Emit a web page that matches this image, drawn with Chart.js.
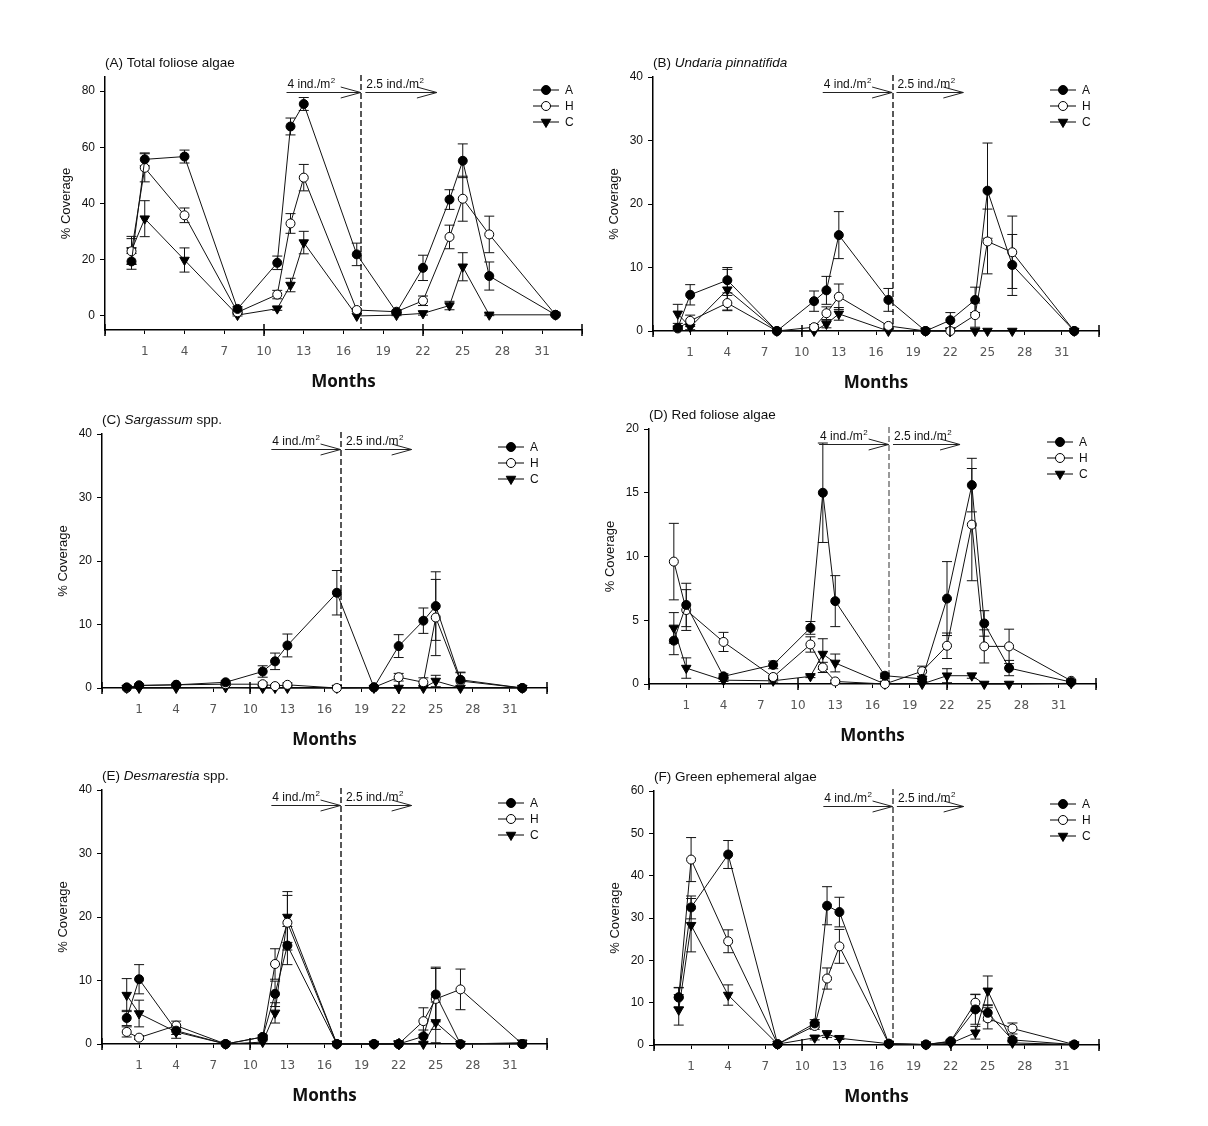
<!DOCTYPE html>
<html><head><meta charset="utf-8">
<script src="https://cdn.jsdelivr.net/npm/chart.js@4.4.0/dist/chart.umd.min.js"></script>
<style>
html,body{margin:0;padding:0;background:#fff;}
body{width:1208px;height:1126px;position:relative;overflow:hidden;}
canvas{position:absolute;left:0;top:0;}
</style></head><body>
<script>
// ---------- shared axis data ----------
const months = [0, 1, 4, 8, 11, 12, 13, 17, 20, 22, 24, 25, 27, 32];
const xTicks = [-2, 1, 4, 7, 10, 13, 16, 19, 22, 25, 28, 31, 34];
const xLabelled = [1, 4, 7, 10, 13, 16, 19, 22, 25, 28, 31];
const xMajorTicks = [-2, 10, 22, 34];
const seriesNames = ['A', 'H', 'C'];
const densityBreak = 17.35;
const arrowFirst = [11.7, 17.3];
const arrowSecond = [17.65, 23.05];
const arrowLabels = ['4 ind./m', '2.5 ind./m'];

// ---------- (A) Total foliose algae ----------
const totalA    = [19.4, 55.7, 56.7, 2.5, 18.9, 67.4, 75.4, 21.9, 1.3, 17.1, 41.4, 55.2, 14.2, 0.4];
const totalAErr = [2.8, 2.3, 2.3, 0.8, 2.4, 3.0, 2.3, 4.0, 0.5, 4.5, 3.5, 6.0, 5.0, 0.3];
const totalH    = [23.0, 52.7, 35.8, 1.3, 7.6, 32.9, 49.2, 2.1, 1.5, 5.4, 28.1, 41.7, 29.0, 0.4];
const totalHErr = [4.5, 5.0, 2.6, 0.5, 1.5, 3.5, 4.7, 0.5, 0.5, 1.7, 4.2, 8.0, 6.5, 0.3];
const totalC    = [23.3, 34.6, 19.9, 0.3, 2.6, 11.0, 26.1, 0.0, 0.3, 0.9, 3.7, 17.5, 0.4, 0.4];
const totalCErr = [5.0, 6.4, 4.3, 0.3, 0.6, 2.4, 4.0, 0.0, 0.2, 0.6, 1.5, 5.0, 0.3, 0.3];

// ---------- (B) Undaria pinnatifida ----------
const undariaA    = [0.5, 5.7, 8.0, 0.0, 4.7, 6.4, 15.1, 4.9, 0.0, 1.7, 4.9, 22.1, 10.4, 0.0];
const undariaAErr = [0.3, 1.6, 2.0, 0, 1.6, 2.2, 3.7, 1.8, 0, 1.2, 2.0, 7.5, 4.8, 0];
const undariaH    = [0.4, 1.6, 4.4, 0.0, 0.6, 2.8, 5.4, 0.8, 0.0, 0.0, 2.5, 14.1, 12.4, 0.0];
const undariaHErr = [0.3, 0.9, 1.2, 0, 0.4, 1.0, 2.0, 0.3, 0, 0, 1.9, 5.1, 5.7, 0];
const undariaC    = [2.7, 0.6, 6.5, 0.0, 0.0, 1.1, 2.7, 0.0, 0.0, 0.0, 0.0, 0.0, 0.0, 0.0];
const undariaCErr = [1.5, 0.4, 3.2, 0, 0, 0.6, 1.0, 0, 0, 0, 0, 0, 0, 0];

// ---------- (C) Sargassum spp. ----------
const sargA    = [0.1, 0.4, 0.5, 0.9, 2.6, 4.2, 6.7, 15.0, 0.1, 6.6, 10.6, 12.9, 1.3, 0.0];
const sargAErr = [0, 0.2, 0.1, 0.2, 0.9, 1.3, 1.8, 3.5, 0.1, 1.8, 2.0, 5.4, 1.2, 0];
const sargH    = [0.0, 0.4, 0.5, 0.6, 0.6, 0.3, 0.5, 0.0, 0.1, 1.7, 0.9, 11.1, 1.1, 0.0];
const sargHErr = [0, 0.2, 0.1, 0.2, 0.3, 0.2, 0.3, 0, 0.1, 0.6, 0.7, 6.0, 1.3, 0];
const sargC    = [0.0, 0.0, 0.0, 0.1, 0.0, 0.0, 0.0, 0.0, 0.0, 0.0, 0.0, 1.1, 0.0, 0.0];
const sargCErr = [0, 0, 0, 0, 0, 0, 0, 0, 0, 0, 0, 0.9, 0, 0];

// ---------- (D) Red foliose algae ----------
const redA    = [3.4, 6.2, 0.6, 1.5, 4.4, 15.0, 6.5, 0.65, 0.4, 6.7, 15.6, 4.75, 1.25, 0.15];
const redAErr = [1.1, 1.7, 0.2, 0.3, 0.5, 3.9, 2.0, 0.2, 0.2, 2.9, 2.1, 1.0, 0.6, 0.05];
const redH    = [9.6, 5.8, 3.3, 0.55, 3.1, 1.3, 0.2, 0.0, 1.0, 3.0, 12.5, 2.95, 2.95, 0.25];
const redHErr = [3.0, 1.6, 0.75, 0.1, 0.6, 0.4, 0.1, 0, 0.4, 1.0, 4.4, 1.3, 1.35, 0.1];
const redC    = [4.4, 1.25, 0.3, 0.25, 0.6, 2.35, 1.65, 0.0, 0.0, 0.65, 0.65, 0.0, 0.0, 0.05];
const redCErr = [1.2, 0.8, 0.1, 0.1, 0.1, 1.2, 0.7, 0, 0, 0.55, 0.2, 0, 0, 0];

// ---------- (E) Desmarestia spp. ----------
const desA    = [4.1, 10.2, 2.1, 0.0, 1.1, 7.9, 15.5, 0.0, 0.0, 0.0, 1.2, 7.8, 0.0, 0.0];
const desAErr = [1.2, 2.3, 0.6, 0, 0.3, 2.0, 3.0, 0, 0, 0.5, 1.0, 4.3, 0, 0];
const desH    = [1.9, 1.0, 2.9, 0.0, 1.1, 12.6, 19.1, 0.0, 0.0, 0.0, 3.6, 7.1, 8.6, 0.0];
const desHErr = [0.8, 0.3, 0.7, 0, 0.3, 2.4, 4.3, 0, 0, 0, 2.1, 4.8, 3.2, 0];
const desC    = [7.7, 4.8, 1.9, 0.0, 0.3, 4.9, 20.0, 0.0, 0.0, 0.0, 0.0, 3.4, 0.0, 0.2];
const desCErr = [2.6, 2.1, 1.0, 0, 0.2, 1.6, 4.0, 0, 0, 0.5, 0, 3.2, 0, 0];

// ---------- (F) Green ephemeral algae ----------
const greenA    = [11.3, 32.5, 45.0, 0.2, 5.1, 32.9, 31.4, 0.3, 0.1, 0.8, 8.4, 7.6, 1.2, 0.1];
const greenAErr = [2.3, 2.7, 3.3, 0.1, 0.9, 4.5, 3.5, 0.1, 0.1, 0.3, 3.5, 1.9, 0.5, 0];
const greenH    = [11.2, 43.8, 24.5, 0.2, 4.5, 15.7, 23.3, 0.3, 0.1, 0.9, 10.0, 6.3, 3.9, 0.1];
const greenHErr = [2.3, 5.2, 2.7, 0.1, 0.8, 2.5, 4.0, 0.1, 0.1, 0.3, 2.0, 2.5, 1.3, 0];
const greenC    = [8.3, 28.3, 11.8, 0.2, 1.7, 2.6, 1.6, 0.3, 0.1, 0.4, 2.9, 12.8, 0.5, 0.1];
const greenCErr = [3.6, 6.3, 2.4, 0.1, 0.5, 0.8, 0.3, 0.1, 0, 0.2, 1.5, 3.5, 0.3, 0];

// ---------- y tick labels ----------
const yTicks80 = [0, 20, 40, 60, 80];
const yTicks40 = [0, 10, 20, 30, 40];
const yTicks20 = [0, 5, 10, 15, 20];
const yTicks60 = [0, 10, 20, 30, 40, 50, 60];

// ---------- layout (positions only) ----------
const panels = [
  { area: [105, 77, 582, 330], yMin: -5, yMax: 85, yTicks: yTicks80, dash: '#222',
    title: [['(A) Total foliose algae', false]],
    series: [[totalA, totalAErr], [totalH, totalHErr], [totalC, totalCErr]] },
  { area: [653, 77, 1099, 331], yMin: 0, yMax: 40, yTicks: yTicks40, dash: '#222',
    title: [['(B) ', false], ['Undaria pinnatifida', true]],
    series: [[undariaA, undariaAErr], [undariaH, undariaHErr], [undariaC, undariaCErr]] },
  { area: [102, 434, 547, 688], yMin: 0, yMax: 40, yTicks: yTicks40, dash: '#222',
    title: [['(C) ', false], ['Sargassum', true], [' spp.', false]],
    series: [[sargA, sargAErr], [sargH, sargHErr], [sargC, sargCErr]] },
  { area: [649, 429, 1096, 684], yMin: 0, yMax: 20, yTicks: yTicks20, dash: '#777',
    title: [['(D) Red foliose algae', false]],
    series: [[redA, redAErr], [redH, redHErr], [redC, redCErr]] },
  { area: [102, 790, 547, 1044], yMin: 0, yMax: 40, yTicks: yTicks40, dash: '#222',
    title: [['(E) ', false], ['Desmarestia', true], [' spp.', false]],
    series: [[desA, desAErr], [desH, desHErr], [desC, desCErr]] },
  { area: [654, 791, 1099, 1045], yMin: 0, yMax: 60, yTicks: yTicks60, dash: '#444',
    title: [['(F) Green ephemeral algae', false]],
    series: [[greenA, greenAErr], [greenH, greenHErr], [greenC, greenCErr]] }
];

const Y_W = 58, X_H = 62, PAD_T = 34, PAD_R = 14;
const SANS = '"Liberation Sans", Arial, sans-serif';
const styles = [
  { bg: '#000', style: 'circle', radius: 4.5, rot: 0 },
  { bg: '#fff', style: 'circle', radius: 4.5, rot: 0 },
  { bg: '#000', style: 'triangle', radius: 5.5, rot: 180 }
];

function drawMarker(ctx, s, cx, cy) {
  ctx.save();
  ctx.fillStyle = s.bg; ctx.strokeStyle = '#000'; ctx.lineWidth = 1;
  ctx.beginPath();
  if (s.style === 'circle') {
    ctx.arc(cx, cy, s.radius, 0, Math.PI * 2);
  } else {
    const r = s.radius;
    ctx.moveTo(cx, cy + r);
    ctx.lineTo(cx - r * Math.sin(Math.PI / 3), cy - r / 2);
    ctx.lineTo(cx + r * Math.sin(Math.PI / 3), cy - r / 2);
    ctx.closePath();
  }
  ctx.fill(); ctx.stroke();
  ctx.restore();
}

function drawArrow(ctx, x0, x1, y) {
  ctx.beginPath();
  ctx.moveTo(x0, y); ctx.lineTo(x1, y);
  ctx.moveTo(x1 - 20, y - 5.5); ctx.lineTo(x1, y); ctx.lineTo(x1 - 20, y + 5.5);
  ctx.stroke();
}

function drawSupLabel(ctx, text, x, y) {
  ctx.font = '12px ' + SANS;
  ctx.textBaseline = 'alphabetic'; ctx.textAlign = 'left';
  ctx.fillText(text, x, y);
  const w = ctx.measureText(text).width;
  ctx.font = '8px ' + SANS;
  ctx.fillText('2', x + w + 0.5, y - 5);
}

const overlay = {
  id: 'overlay',
  beforeDatasetsDraw(chart, args, opts) {
    const { ctx, chartArea: ca } = chart;
    const xs = chart.scales.x, ys = chart.scales.y;
    // density break dashed line
    ctx.save();
    ctx.strokeStyle = opts.dash; ctx.lineWidth = 1.5; ctx.setLineDash([6, 3]);
    const dx = Math.round(xs.getPixelForValue(densityBreak));
    ctx.beginPath(); ctx.moveTo(dx, ca.top - 2); ctx.lineTo(dx, ca.bottom); ctx.stroke();
    ctx.restore();
    // error bars
    ctx.save();
    ctx.strokeStyle = '#111'; ctx.lineWidth = 1;
    chart.data.datasets.forEach((ds, di) => {
      const meta = chart.getDatasetMeta(di);
      ds.errors.forEach((e, i) => {
        if (!e) return;
        const pt = meta.data[i];
        const v = ds.data[i].y;
        const yT = Math.max(ys.getPixelForValue(v + e), ca.top);
        const yB = Math.min(ys.getPixelForValue(v - e), ca.bottom);
        ctx.beginPath();
        ctx.moveTo(pt.x, yT); ctx.lineTo(pt.x, yB);
        ctx.moveTo(pt.x - 5, yT); ctx.lineTo(pt.x + 5, yT);
        if (yB < ca.bottom) { ctx.moveTo(pt.x - 5, yB); ctx.lineTo(pt.x + 5, yB); }
        ctx.stroke();
      });
    });
    ctx.restore();
  },
  afterDraw(chart, args, opts) {
    const { ctx, chartArea: ca } = chart;
    const xs = chart.scales.x;
    ctx.save();
    // major x ticks
    ctx.strokeStyle = '#000'; ctx.lineWidth = 1.5;
    xMajorTicks.forEach(v => {
      const px = Math.round(xs.getPixelForValue(v));
      ctx.beginPath(); ctx.moveTo(px, ca.bottom - 6); ctx.lineTo(px, ca.bottom + 6); ctx.stroke();
    });
    // arrows
    ctx.strokeStyle = '#222'; ctx.fillStyle = '#111'; ctx.lineWidth = 1;
    const ay = ca.top + 15.5;
    [arrowFirst, arrowSecond].forEach((a, k) => {
      const x0 = xs.getPixelForValue(a[0]), x1 = xs.getPixelForValue(a[1]);
      drawArrow(ctx, x0, x1, ay);
      drawSupLabel(ctx, arrowLabels[k], x0 + 1, ay - 5);
    });
    // legend
    chart.data.datasets.forEach((ds, i) => {
      const lx = ca.right - 49, ly = ca.top + 13 + i * 16;
      ctx.strokeStyle = '#000'; ctx.lineWidth = 1;
      ctx.beginPath(); ctx.moveTo(lx, ly); ctx.lineTo(lx + 26, ly); ctx.stroke();
      drawMarker(ctx, styles[i], lx + 13, ly);
      ctx.fillStyle = '#111'; ctx.font = '12px ' + SANS;
      ctx.textAlign = 'left'; ctx.textBaseline = 'middle';
      ctx.fillText(ds.label, lx + 32, ly + 0.5);
    });
    // panel title
    let tx = ca.left;
    ctx.textBaseline = 'middle'; ctx.textAlign = 'left'; ctx.fillStyle = '#111';
    opts.title.forEach(([t, it]) => {
      ctx.font = (it ? 'italic ' : '') + '13.5px ' + SANS;
      ctx.fillText(t, tx, ca.top - 14);
      tx += ctx.measureText(t).width;
    });
    ctx.restore();
  }
};

panels.forEach(p => {
  const [l, t, r, b] = p.area;
  const cv = document.createElement('canvas');
  cv.width = (r - l) + Y_W + PAD_R;
  cv.height = (b - t) + PAD_T + X_H;
  document.body.appendChild(cv);
  const datasets = p.series.map(([vals, errs], i) => ({
    label: seriesNames[i],
    data: months.map((m, j) => ({ x: m, y: vals[j] })),
    errors: errs,
    borderColor: '#111', borderWidth: 1,
    backgroundColor: styles[i].bg,
    pointBackgroundColor: styles[i].bg,
    pointBorderColor: '#000', pointBorderWidth: 1,
    pointStyle: styles[i].style, pointRadius: styles[i].radius,
    pointRotation: styles[i].rot,
    tension: 0, clip: false
  }));
  const chart = new Chart(cv, {
    type: 'line',
    data: { datasets },
    options: {
      responsive: false, animation: false, devicePixelRatio: 1,
      layout: { padding: { top: PAD_T, right: PAD_R, left: 0, bottom: 0 } },
      plugins: { legend: { display: false }, tooltip: { enabled: false },
                 overlay: { dash: p.dash, title: p.title } },
      scales: {
        x: {
          type: 'linear', min: -2, max: 34,
          afterBuildTicks: s => { s.ticks = xTicks.map(v => ({ value: v })); },
          afterFit: s => { s.height = X_H; },
          ticks: { autoSkip: false, maxRotation: 0, padding: 11,
                   callback: v => xLabelled.includes(v) ? String(v) : '',
                   font: { family: '"DejaVu Sans"', size: 12 }, color: '#555' },
          grid: { display: true, drawOnChartArea: false, drawTicks: true, tickLength: 4, color: '#000', lineWidth: 1 },
          border: { display: true, color: '#000', width: 1.5 },
          title: { display: true, text: 'Months', color: '#111',
                   font: { family: '"Noto Sans", sans-serif', size: 17, weight: 'bold' },
                   padding: { top: 4, bottom: 0 } }
        },
        y: {
          type: 'linear', min: p.yMin, max: p.yMax,
          afterBuildTicks: s => { s.ticks = p.yTicks.map(v => ({ value: v })); },
          afterFit: s => { s.width = Y_W; },
          ticks: { padding: 5, font: { family: SANS, size: 12 }, color: '#111' },
          grid: { display: true, drawOnChartArea: false, drawTicks: true, tickLength: 5, color: '#000', lineWidth: 1 },
          border: { display: true, color: '#000', width: 1.5 },
          title: { display: true, text: '% Coverage', color: '#111',
                   font: { family: SANS, size: 13 }, padding: { top: 12, bottom: 0 } }
        }
      }
    },
    plugins: [overlay]
  });
  const ca = chart.chartArea;
  cv.style.left = (l - ca.left) + 'px';
  cv.style.top = (t - ca.top) + 'px';
});
</script>
</body></html>
